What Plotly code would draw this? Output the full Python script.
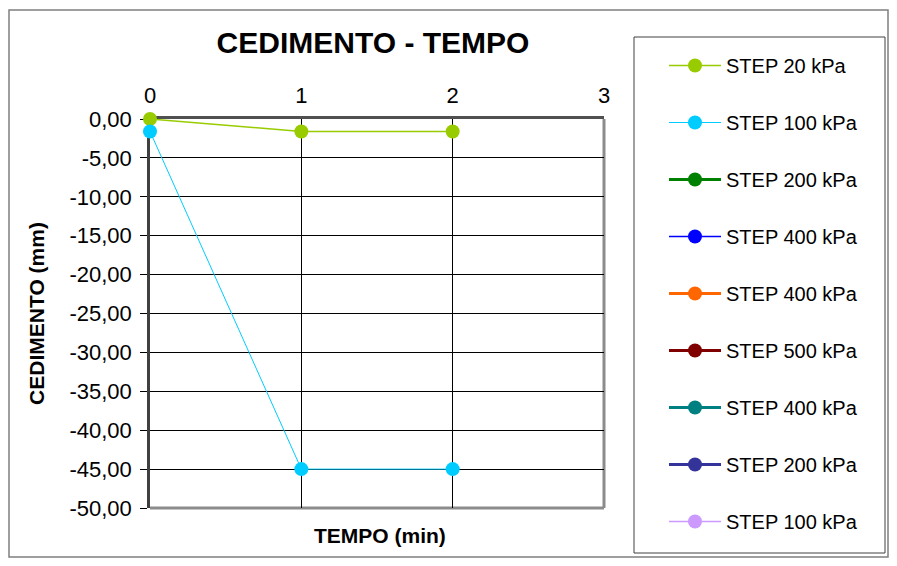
import plotly.graph_objects as go

# =============================================================================
# DATA
# =============================================================================

series_names = [
    "STEP 20 kPa",
    "STEP 100 kPa",
    "STEP 200 kPa",
    "STEP 400 kPa",
    "STEP 400 kPa",
    "STEP 500 kPa",
    "STEP 400 kPa",
    "STEP 200 kPa",
    "STEP 100 kPa",
]
series_colors = [
    "#99CC00",
    "#00CCFF",
    "#008000",
    "#0000FF",
    "#FF6600",
    "#800000",
    "#008080",
    "#333399",
    "#CC99FF",
]
series_widths = [1.5, 1, 3, 1.5, 3, 3, 3, 3, 1.5]

tempo_20 = [0, 1, 2]
ced_20 = [0.0, -1.6, -1.6]
tempo_100 = [0, 1, 2]
ced_100 = [-1.6, -45.0, -45.0]

# the remaining steps have no readings yet
series_x = [tempo_20, tempo_100] + [[None]] * 7
series_y = [ced_20, ced_100] + [[None]] * 7

x_ticks = [0, 1, 2, 3]
y_ticks = [0, -5, -10, -15, -20, -25, -30, -35, -40, -45, -50]
y_tick_text = [f"{v:.2f}".replace(".", ",") for v in y_ticks]

# =============================================================================
# FIGURE
# =============================================================================

# the page body has an 8px margin, so the figure is kept inside the window
FIG_W, FIG_H = 881, 550
L, R, T, B = 142, 596, 111, 500
W = R - L
H = B - T


def px_x(v):
    return (v - L) / W


def px_y(v):
    return (B - v) / H


fig = go.Figure()

for i, name in enumerate(series_names):
    fig.add_trace(
        go.Scatter(
            x=series_x[i],
            y=series_y[i],
            name=name,
            mode="lines+markers",
            legendgroup=f"g{i}",
            line=dict(color=series_colors[i], width=series_widths[i]),
            marker=dict(color=series_colors[i], size=14),
            cliponaxis=False,
            showlegend=True,
        )
    )

fig.update_layout(
    width=FIG_W,
    height=FIG_H,
    paper_bgcolor="white",
    plot_bgcolor="white",
    font=dict(family="Liberation Sans, Arial", size=20, color="black"),
    margin=dict(l=L, r=FIG_W - R, t=T, b=FIG_H - B, pad=0),
    title=dict(
        text="<b>CEDIMENTO - TEMPO</b>",
        font=dict(size=30, color="black"),
        x=px_x(365),
        xanchor="center",
        xref="paper",
        y=1 - 34 / FIG_H,
        yanchor="middle",
    ),
    legend=dict(
        x=px_x(656),
        y=px_y(38),
        xanchor="left",
        yanchor="top",
        traceorder="grouped",
        tracegroupgap=28,
        itemwidth=52,
        maxheight=530,
        font=dict(size=20),
        bgcolor="rgba(0,0,0,0)",
    ),
    shapes=[
        # outer chart border
        dict(
            type="rect", xref="paper", yref="paper",
            x0=px_x(1), x1=px_x(880), y0=px_y(549), y1=px_y(2),
            line=dict(color="#7f7f7f", width=1.5), layer="below",
        ),
        # legend box
        dict(
            type="rect", xref="paper", yref="paper",
            x0=px_x(626), x1=px_x(877), y0=px_y(545), y1=px_y(29),
            line=dict(color="#404040", width=1), layer="below",
        ),
        # right and bottom frame of the plot area
        dict(
            type="line", xref="paper", yref="paper",
            x0=1, x1=1, y0=0, y1=1,
            line=dict(color="#8c8c8c", width=3), layer="below",
        ),
        dict(
            type="line", xref="paper", yref="paper",
            x0=0, x1=1, y0=0, y1=0,
            line=dict(color="#8c8c8c", width=3), layer="below",
        ),
    ],
)

fig.update_xaxes(
    range=[0, 3],
    tickvals=x_ticks,
    side="top",
    showgrid=True,
    gridcolor="black",
    gridwidth=1,
    zeroline=False,
    showline=True,
    linecolor="#505050",
    linewidth=2.5,
    layer="below traces",
    ticks="",
    ticklabelstandoff=4,
    tickfont=dict(size=22),
)

fig.update_yaxes(
    range=[-50, 0],
    tickvals=y_ticks,
    ticktext=y_tick_text,
    showgrid=True,
    gridcolor="black",
    gridwidth=1,
    zeroline=False,
    showline=True,
    linecolor="#404040",
    linewidth=2.5,
    layer="below traces",
    ticks="outside",
    ticklen=7,
    tickcolor="black",
    ticklabelstandoff=4,
    tickfont=dict(size=22),
    title=dict(
        text="<b>CEDIMENTO (mm)</b>",
        font=dict(size=21),
        standoff=20,
    ),
)

fig.add_annotation(
    text="<b>TEMPO (min)</b>",
    xref="paper", yref="paper",
    x=px_x(372), y=px_y(527),
    xanchor="center", yanchor="middle",
    showarrow=False,
    font=dict(size=21, color="black"),
)

fig.write_html("out.html")
